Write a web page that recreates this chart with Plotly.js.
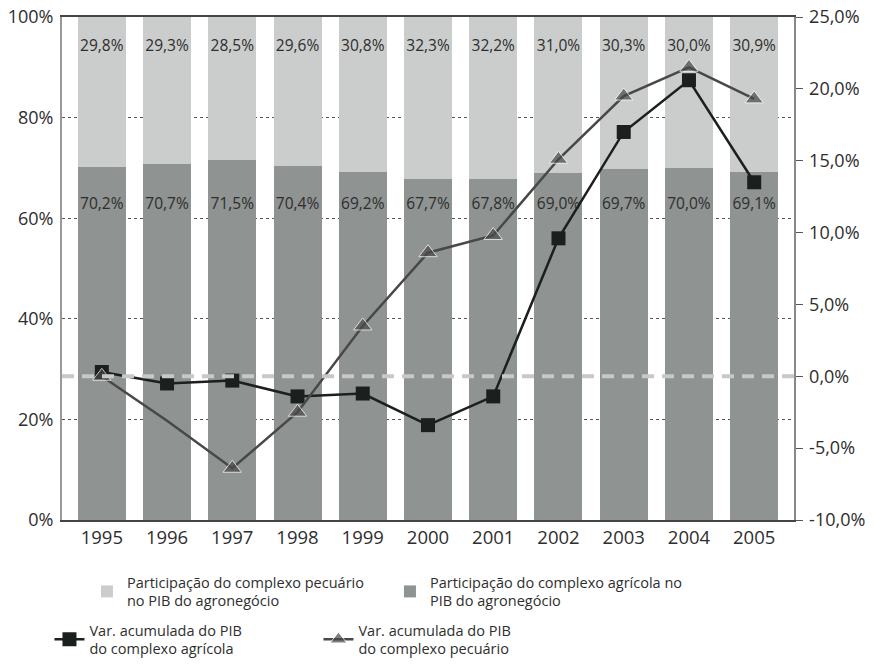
<!DOCTYPE html>
<html>
<head>
<meta charset="utf-8">
<script src="https://cdn.plot.ly/plotly-3.0.1.min.js"></script>
<style>html,body{margin:0;padding:0;background:#fff;}#chart{width:874px;height:664px;}</style>
</head>
<body>
<div id="chart"></div>
<script>
const years = ['1995','1996','1997','1998','1999','2000','2001','2002','2003','2004','2005'];
const shareAgricola = [70.2, 70.7, 71.5, 70.4, 69.2, 67.7, 67.8, 69.0, 69.7, 70.0, 69.1];
const sharePecuario = [29.8, 29.3, 28.5, 29.6, 30.8, 32.3, 32.2, 31.0, 30.3, 30.0, 30.9];
const varAgricola = [0.3, -0.5, -0.3, -1.4, -1.2, -3.4, -1.4, 9.6, 17.0, 20.6, 13.5];
const varPecuario = [0.0, -3.1, -6.4, -2.5, 3.5, 8.6, 9.8, 15.1, 19.5, 21.5, 19.3];
const leftTicks = [0, 20, 40, 60, 80, 100];
const rightTicks = [-10, -5, 0, 5, 10, 15, 20, 25];

const fmt = v => v.toFixed(1).replace('.', ',') + '%';
const FONT = 'Open Sans, sans-serif';
const TXT = '#2e2e2e';

// fixed label rows inside the bars (as in the original chart)
const topLabelRow = 94;
const bottomLabelRow = 62.6;

const traces = [
  {type:'bar', x: years, y: shareAgricola, name:'Participação do complexo agrícola no<br>PIB do agronegócio',
   marker:{color:'#8f9392', line:{width:0}}, legend:'legend', hoverinfo:'skip'},
  {type:'bar', x: years, y: sharePecuario, name:'Participação do complexo pecuário<br>no PIB do agronegócio',
   marker:{color:'#cbcdcc', line:{width:0}}, legend:'legend', hoverinfo:'skip'},
  {type:'scatter', mode:'text', x: years, y: years.map(() => topLabelRow), text: sharePecuario.map(fmt),
   textfont:{family:FONT, size:15.5, color:TXT}, showlegend:false, hoverinfo:'skip', cliponaxis:false},
  {type:'scatter', mode:'text', x: years, y: years.map(() => bottomLabelRow), text: shareAgricola.map(fmt),
   textfont:{family:FONT, size:15.5, color:TXT}, showlegend:false, hoverinfo:'skip', cliponaxis:false},
  {type:'scatter', mode:'lines+markers', x: years, y: varAgricola, yaxis:'y2',
   name:'Var. acumulada do PIB<br>do complexo agrícola', legend:'legend2',
   line:{color:'#1b1f1e', width:2.5},
   marker:{symbol:'square', size:14, color:'#1b1f1e'}},
  {type:'scatter', mode:'lines+markers', x: years, y: varPecuario, yaxis:'y2',
   name:'Var. acumulada do PIB<br>do complexo pecuário', legend:'legend2',
   line:{color:'#484848', width:2.5},
   marker:{symbol:'triangle-up', size: years.map((_, i) => i === 1 ? 0 : 16), color:'#484848'}}
];

const layout = {
  width: 874, height: 664,
  margin: {l: 62, r: 80, t: 17, b: 144},
  paper_bgcolor:'#fff', plot_bgcolor:'#fff',
  separators: ',.',
  barmode: 'stack', bargap: 0.264,
  font: {family: FONT, color: TXT},
  xaxis: {type:'category', range:[-0.61, 10.61], showline:true, mirror:true, linecolor:'#444', linewidth:2,
    ticks:'', showgrid:false, tickfont:{size:18.5, color:TXT}, fixedrange:true},
  yaxis: {range:[0, 100], tickvals: leftTicks, ticktext: leftTicks.map(v => v + '%'),
    showline:true, linecolor:'#999', linewidth:2, ticks:'', showgrid:true, gridcolor:'#555', gridwidth:1,
    griddash:'dot', zeroline:false, tickfont:{size:18, color:TXT}, ticklabelstandoff:3},
  yaxis2: {overlaying:'y', side:'right', anchor:'x', range:[-10, 25], tickvals: rightTicks,
    ticktext: rightTicks.map(fmt),
    showline:true, linecolor:'#888', linewidth:1.5, ticks:'outside', ticklen:7, tickcolor:'#555', tickwidth:1,
    showgrid:false, zeroline:false, tickfont:{size:18, color:TXT}, ticklabelstandoff:3},
  yaxis3: {overlaying:'y', side:'right', anchor:'x', range:[-10, 25], tickvals: rightTicks,
    showticklabels:false, ticks:'inside', ticklen:7, tickcolor:'#555', tickwidth:1,
    showgrid:false, zeroline:false, showline:false},
  shapes: [
    {type:'line', xref:'paper', x0:0, x1:1, yref:'y2', y0:0, y1:0, layer:'above',
     line:{color:'#c8c8c8', width:4, dash:'12px,8px'}}
  ],
  legend: {orientation:'h', xref:'container', yref:'container', x:0.0995, xanchor:'left', y:0.1475, yanchor:'top',
    traceorder:'reversed', entrywidth:258, entrywidthmode:'pixels', font:{size:14.5, color:TXT},
    bgcolor:'rgba(0,0,0,0)'},
  legend2: {orientation:'h', xref:'container', yref:'container', x:0.0566, xanchor:'left', y:0.0753, yanchor:'top',
    traceorder:'normal', entrywidth:224, entrywidthmode:'pixels', font:{size:14.5, color:TXT},
    bgcolor:'rgba(0,0,0,0)'},
  showlegend: true
};

Plotly.newPlot('chart', traces, layout, {displayModeBar:false, staticPlot:true});
</script>
</body>
</html>
